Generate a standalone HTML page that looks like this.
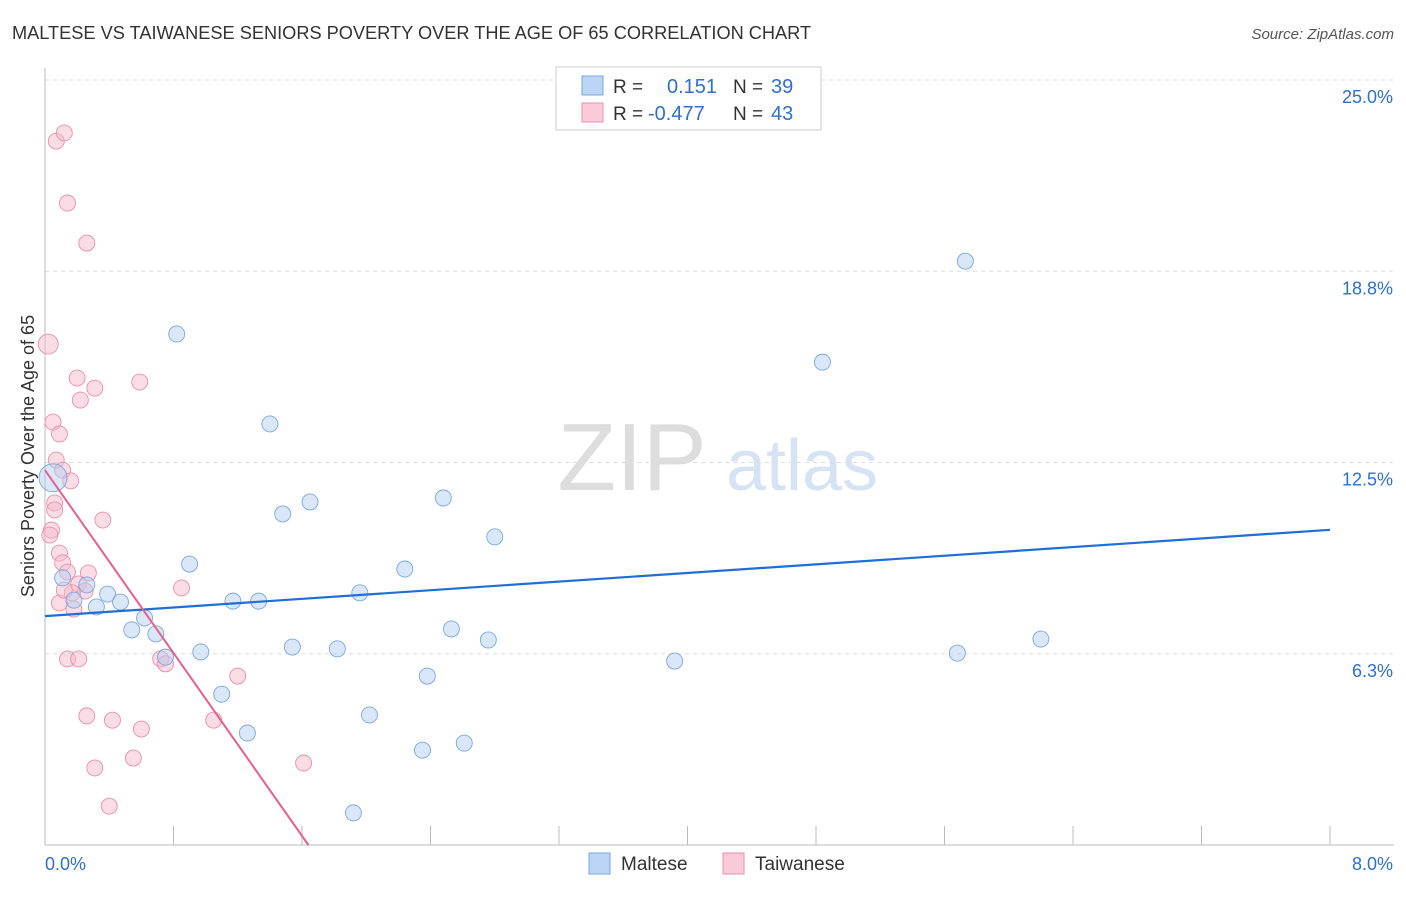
<!DOCTYPE html>
<html><head><meta charset="utf-8">
<style>
body{margin:0;background:#fff;font-family:"Liberation Sans",sans-serif;}
svg text{font-family:"Liberation Sans",sans-serif;}
</style></head>
<body>
<svg id="chart" width="1406" height="892" xmlns="http://www.w3.org/2000/svg">
<text x="12" y="39" font-size="18.2" fill="#333">MALTESE VS TAIWANESE SENIORS POVERTY OVER THE AGE OF 65 CORRELATION CHART</text>
<text x="1394" y="39" font-size="15" fill="#555" font-style="italic" text-anchor="end">Source: ZipAtlas.com</text>
<text x="632" y="490" font-size="96" fill="#ddd" font-family="Liberation Serif" text-anchor="middle">ZIP</text>
<text x="802" y="490" font-size="72" fill="#d6e3f5" text-anchor="middle">atlas</text>
<text transform="translate(34,456) rotate(-90)" font-size="18" fill="#333" text-anchor="middle">Seniors Poverty Over the Age of 65</text>
<g id="grid"></g><g id="axes"></g><g id="pts"></g><g id="trend"></g>
<g>
<rect x="556" y="67" width="265" height="63" fill="#fff" stroke="#ccc"/>
<rect x="582" y="76" width="21" height="19" fill="#bcd5f5" stroke="#7aa7e0"/>
<rect x="582" y="103" width="21" height="19" fill="#f9cad8" stroke="#eb8fae"/>
<text x="613" y="93" font-size="19" fill="#333">R = </text><text x="667" y="93" font-size="20" fill="#2f6fd0">0.151</text>
<text x="733" y="93" font-size="19" fill="#333">N = </text><text x="771" y="93" font-size="20" fill="#2f6fd0">39</text>
<text x="613" y="120" font-size="19" fill="#333">R = </text><text x="648" y="120" font-size="20" fill="#2f6fd0">-0.477</text>
<text x="733" y="120" font-size="19" fill="#333">N = </text><text x="771" y="120" font-size="20" fill="#2f6fd0">43</text>
</g>
<g>
<rect x="589" y="853" width="21" height="21" fill="#bcd5f5" stroke="#7aa7e0"/>
<text x="621" y="870" font-size="19" fill="#333">Maltese</text>
<rect x="723" y="853" width="21" height="21" fill="#f9cad8" stroke="#eb8fae"/>
<text x="755" y="870" font-size="19" fill="#333">Taiwanese</text>
</g>
</svg>
<script>
const yTicks=[25.0,18.75,12.5,6.25];
const yTickLabels=["25.0%","18.8%","12.5%","6.3%"];
const xTickCount=10;
const xEndLabels=["0.0%","8.0%"];
const malteseX=[0.05,0.11,0.26,0.18,0.32,0.39,0.47,0.54,0.62,0.69,0.75,0.82,0.90,0.97,1.10,1.17,1.26,1.33,1.40,1.48,1.54,1.65,1.82,1.92,1.96,2.02,2.24,2.35,2.38,2.48,2.53,2.61,2.76,2.80,3.92,4.84,5.68,5.73,6.20];
const malteseY=[12.0,8.73,8.5,8.0,7.78,8.2,7.94,7.03,7.42,6.9,6.14,16.7,9.18,6.31,4.93,7.97,3.66,7.97,13.76,10.82,6.47,11.21,6.41,1.05,8.24,4.25,9.02,3.1,5.52,11.34,7.06,3.33,6.7,10.07,6.01,15.78,6.27,19.08,6.73];
const taiwanX=[0.02,0.07,0.12,0.14,0.26,0.20,0.31,0.22,0.59,0.05,0.09,0.07,0.11,0.06,0.06,0.04,0.03,0.36,0.09,0.11,0.14,0.27,0.21,0.25,0.17,0.09,0.18,0.85,0.14,0.21,0.72,0.75,1.20,0.26,0.42,0.60,1.05,0.31,0.55,0.40,1.61,0.12,0.16];
const taiwanY=[16.37,23.0,23.27,20.98,19.67,15.26,14.93,14.54,15.13,13.82,13.43,12.58,12.25,11.18,10.95,10.29,10.13,10.62,9.54,9.22,8.92,8.89,8.53,8.3,8.24,7.91,7.71,8.4,6.08,6.08,6.08,5.92,5.52,4.22,4.08,3.79,4.08,2.52,2.84,1.27,2.68,8.33,11.9];
const malteseTrend=[7.48,10.3];
const taiwanTrend=[12.25,-7.47];
const NS="http://www.w3.org/2000/svg";
const X0=45,X1=1330,Y0=845,Y25=80;
const sx=v=>X0+v/8*(X1-X0);
const sy=v=>Y25+(25-v)*(Y0-Y25)/25;
function mk(t,a,p){const e=document.createElementNS(NS,t);for(const k in a)e.setAttribute(k,a[k]);document.getElementById(p).appendChild(e);return e;}
yTicks.forEach((t,i)=>{
 const l=mk('line',{x1:X0,x2:1394,y1:sy(t),y2:sy(t),stroke:'#ddd','stroke-dasharray':'4,4'},'grid');
 
 
 const tx=mk('text',{x:1393,y:sy(t)+23,'font-size':18,fill:'#2f6fd0','text-anchor':'end'},'grid');
 tx.textContent=yTickLabels[i];
 
 
});
let ax=mk('line',{x1:X0,x2:X0,y1:68,y2:Y0,stroke:'#bbb'},'axes');


ax=mk('line',{x1:X0,x2:1394,y1:Y0,y2:Y0,stroke:'#bbb'},'axes');


for(let i=1;i<=xTickCount;i++){const v=i*8/xTickCount;
 const t=mk('line',{x1:sx(v),x2:sx(v),y1:826,y2:Y0,stroke:'#bbb'},'axes');
 
 }
[[0,'start',45],[8,'end',1393]].forEach((d,i)=>{
 const t=mk('text',{x:d[2],y:870,'font-size':18,fill:'#2f6fd0','text-anchor':d[1]},'axes');
 t.textContent=xEndLabels[i];
 
 });
function pts(xs,ys,fill,stroke,name){xs.forEach((x,i)=>{
 const big=(i===0);
 const c=mk('circle',{cx:sx(x),cy:sy(ys[i]),r:big&&name=='maltese-point'?14:(big?10:8),fill:fill,'fill-opacity':0.5,stroke:stroke,'stroke-width':0.9},'pts');
 
 });}
pts(taiwanX,taiwanY,'#f6b9cc','#eb8fae','taiwanese-point');
pts(malteseX,malteseY,'#b3cff2','#7aa7e0','maltese-point');
let tl=mk('line',{x1:sx(0),y1:sy(malteseTrend[0]),x2:sx(8),y2:sy(malteseTrend[1]),stroke:'#1f6fd6','stroke-width':2.2},'trend');


const xe=-taiwanTrend[0]/taiwanTrend[1];
tl=mk('line',{x1:sx(0),y1:sy(taiwanTrend[0]),x2:sx(xe),y2:sy(0),stroke:'#e8608c','stroke-width':2},'trend');


</script>
</body></html>
